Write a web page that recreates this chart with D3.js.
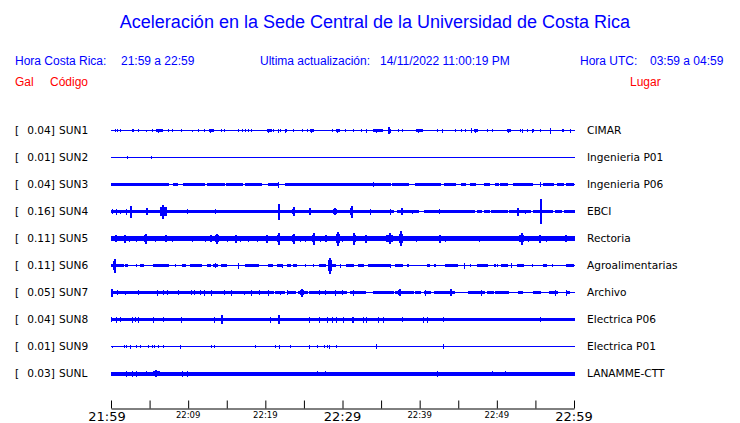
<!DOCTYPE html>
<html><head><meta charset="utf-8">
<script src="https://cdn.jsdelivr.net/npm/d3@7/dist/d3.min.js"></script>
<style>
html,body{margin:0;padding:0;background:#fff;}
svg{display:block;}
</style></head>
<body>
<svg id="chart" width="740" height="423"></svg>
<script>
// ---------- DATA ----------
const title = "Aceleración en la Sede Central de la Universidad de Costa Rica";
const horaCR = "21:59 a 22:59";
const horaUTC = "03:59 a 04:59";
const actualizacion = "14/11/2022 11:00:19 PM";
const stations = ["SUN1","SUN2","SUN3","SUN4","SUN5","SUN6","SUN7","SUN8","SUN9","SUNL"];
const peaks = ["0.04","0.01","0.04","0.16","0.11","0.11","0.05","0.04","0.01","0.03"];
const places = ["CIMAR","Ingenieria P01","Ingenieria P06","EBCI","Rectoria","Agroalimentarias","Archivo","Electrica P06","Electrica P01","LANAMME-CTT"];
const tickMinutes = [0,5,10,15,20,25,30,35,40,45,50,55,60];
const tickLabels = ["21:59","","22:09","","22:19","","22:29","","22:39","","22:49","","22:59"];
const bigLabels = ["21:59","22:29","22:59"];
// background trace amplitude (relative units) and band amplitude
const baseAmp = [0.5,0.5,0.5,0.5,0.5,0.5,0.5,0.5,0.5,0.5];
const bandAmp = [0,0,1.5,1.7,2.5,1.4,1.6,1.9,0,2.0];
// band segments [startMinute, endMinute]
const bands = [
  [],
  [],
  [[0,7.4],[8.0,8.6],[9.3,10.9],[11.0,12.0],[12.5,14.6],[14.9,17.0],[17.4,19.5],[20.3,21.5],[22.5,29.9],[30.0,36.2],[36.4,38.5],[39.4,42.6],[43.1,44.6],[45.4,45.9],[46.5,47.2],[48.4,49.0],[49.8,50.2],[50.4,51.3],[52.1,54.5],[56.0,57.3],[57.8,58.6],[59.0,59.9]],
  [[0,36.6],[37.1,39.8],[40.5,47.0],[47.4,48.0],[48.3,49.0],[49.3,51.3],[51.6,54.3],[54.7,57.2],[57.5,58.3],[58.7,60]],
  [[0,60]],
  [[0,1.5],[1.8,2.1],[3.8,4.2],[5.5,7.4],[9.2,9.6],[10.2,11.7],[12.4,12.8],[13.2,13.7],[14.3,14.9],[17.4,19.1],[20.4,20.8],[21.5,22.1],[22.8,23.2],[23.6,24.0],[26.9,27.7],[28.1,29.0],[30.5,31.4],[32.0,32.7],[33.3,36.2],[36.8,37.7],[38.3,38.5],[40.9,41.2],[41.8,42.0],[43.3,44.4],[44.6,44.8],[47.4,48.7],[49.6,49.8],[50.6,51.3],[52.6,53.4],[56.0,56.4],[59.0,59.9]],
  [[0,21.0],[21.3,22.4],[23.0,23.8],[24.2,25.4],[25.7,30.5],[31.0,32.9],[34.0,36.6],[36.8,39.2],[39.4,40.0],[40.5,41.3],[41.8,42.6],[42.8,44.4],[46.3,48.3],[48.7,49.5],[49.7,51.5],[52.8,53.2],[54.7,55.6],[56.7,57.8],[58.9,59.3]],
  [[0,60]],
  [],
  [[0,60]]
];
// events [minute, amplitude, burstWidthMinutes]
const events = [
  [[0.52,1.5,0],[0.73,1.5,0],[1.2,1.5,0],[2.7,1.5,0],[2.9,1.5,0],[3.5,1.5,0],[4.6,1,0],[5.3,1.5,0],[5.8,2,0.9],[7.4,1.5,0],[7.9,1.5,0],[9.1,1.5,0],[10.5,1,0],[11.3,1.5,0],[12.0,1.5,0],[12.7,2,0.6],[14.3,1.5,0],[14.6,1.5,0],[16.5,1.5,0],[17.0,1.5,0],[17.4,1.5,0],[17.7,1.5,0],[18.2,1.5,0],[20.2,2,0.6],[21.0,1.5,0],[21.7,2,0],[21.9,1.5,0],[22.5,2,0.35],[23.6,1.5,0],[24.7,1.5,0],[25.4,1.5,0],[25.8,2,0.45],[28.6,1.5,0],[29.1,2,0.6],[30.3,1.5,0],[31.4,1.5,0],[32.4,1.5,0],[33.0,2,0],[34.0,2,1.2],[35.9,3.5,0],[36.2,2,0],[37.2,1.5,0],[37.7,1.5,0],[39.5,2,0.9],[42.2,1.5,0],[42.9,2,0],[44.6,1.5,0],[45.3,1.5,0],[45.9,1.5,0],[46.6,2.5,0],[47.0,2,0.6],[48.7,1.5,0],[49.4,1.5,0],[51.3,2,0.6],[53.0,1.5,0],[53.2,2,0.2],[53.9,1.5,0],[54.5,2,0.35],[55.6,1.5,0],[56.9,3,0],[58.4,1.5,0],[58.6,1.5,0],[59.5,2,0]],
  [[2.1,1.5,0],[5.2,1.5,0]],
  [[21.7,3,0],[34.0,2.5,0],[55.6,2.5,0]],
  [[0.1,2.5,0],[0.7,3,0],[1.2,2,0],[1.9,3,0.3],[2.4,6,0],[4.5,3.5,0],[6.4,7,0.9],[9.9,2.5,0],[13.3,2.5,0.5],[21.7,8,0],[23.4,4.5,0.5],[25.7,3.5,0],[28.8,3.5,0.5],[31.0,6,0.3],[33.5,3,0],[36.1,3,0],[37.6,3.5,0],[39.0,2,0],[42.5,2.5,0.2],[52.6,4,0],[53.7,2,0],[55.6,12.5,0]],
  [[0.3,3.5,0.9],[1.6,4,0.3],[2.2,3,0.3],[3.3,3,0],[4.3,5,0.4],[5.7,3,0],[6.9,3.5,0.5],[7.9,3,0],[10.2,3,0.9],[12.2,3,0],[12.8,3.5,0],[13.5,5,0.5],[15.0,3,0.2],[15.8,4,0.7],[16.7,3,0],[17.8,3,0],[18.9,3,0],[20.0,4,0.5],[21.5,6,0.4],[23.4,5,0.5],[24.5,3,0],[25.1,3,0],[26.0,6,0.4],[27.1,3,0],[27.7,3.5,0],[29.2,7,0.5],[29.8,3,0.4],[31.3,6,0.4],[32.6,4,0.9],[35.7,5.5,0.9],[37.3,7.5,0.6],[39.2,3,1.0],[42.4,4,0.4],[43.3,3,0],[47.6,3,0.4],[52.9,6,0.6],[54.1,3,0],[55.4,4,0.4],[56.4,3,0],[58.7,3.5,0.4]],
  [[0.3,7,0.4],[3.3,1.5,0],[8.3,1.5,0],[13.5,2.5,0],[16.5,3,0],[22.2,2,0],[25.2,1.5,0],[26.2,1.5,0],[28.1,8,0.6],[29.7,2,0],[36.2,2,0],[38.3,1.5,0],[45.7,3,0],[46.5,1.5,0],[50.0,1.5,0],[51.9,2.5,0],[54.5,1.5,0],[56.1,1.5,0],[57.1,1.5,0]],
  [[0.0,4,0.2],[0.6,2.5,0.4],[1.8,2,0],[3.5,2.5,0],[5.8,3,0.4],[6.8,2.5,0],[7.3,2.5,0],[8.7,2.5,0],[10.4,2.5,0],[10.8,2.5,0],[11.5,2.5,0],[12.0,3,0],[13.0,3,0],[14.5,2.5,0.4],[15.6,3,0],[17.2,2,0],[18.0,3,0.3],[19.2,2.5,0],[20.2,3,0.6],[21.9,2,0],[22.8,2.5,0],[24.5,4,0.5],[26.9,2.5,0],[27.7,2.5,0],[29.0,3,0],[29.9,2.5,0],[31.3,3,0.3],[37.2,3.5,0.3],[40.7,3,0],[43.9,3.5,0.3],[48.0,3,0],[57.4,3,0.3],[59.0,3,0]],
  [[0.0,2.5,0],[0.7,3,0],[1.2,2.5,0],[2.6,3,0.3],[3.1,2.5,0],[3.5,3,0],[5.4,3,0.3],[6.8,2.5,0],[9.1,3,0],[13.3,3,0.3],[14.3,4.5,0],[20.6,3,0],[21.7,4.5,0],[25.6,3,0],[26.9,3,0],[28.0,3,0],[28.6,3,0],[29.2,3,0],[30.1,3,0],[31.2,3,0],[31.4,3,0],[32.7,3,0],[33.0,3,0],[34.5,3,0.4],[35.3,3,0],[37.7,2.5,0],[40.4,3,0],[40.9,3,0],[43.0,2.5,0],[55.6,2.5,0]],
  [[0.0,1,0.3],[1.7,1.5,0],[2.0,1.5,0],[2.5,2,0],[3.3,1.5,0],[3.7,1.5,0],[4.8,1.5,0],[5.3,1.5,0],[5.6,1.5,0],[6.1,1.5,0],[6.8,1.5,0],[9.0,2,0],[12.9,1.5,0],[13.3,1.5,0],[18.6,1.5,0],[21.3,1.5,0],[21.8,2,0],[23.2,1.5,0],[25.6,2,0],[26.7,1.5,0],[27.6,1.5,0],[28.0,1.5,0],[28.3,2,0],[29.2,1.5,0],[34.3,2.5,0],[43.0,2.5,0]],
  [[2.0,3,0],[2.7,3,0],[3.3,3,0],[4.6,2.5,0],[5.5,3.5,0.8],[9.2,3,0],[9.8,3,0],[26.7,2.5,0],[27.7,2.5,0],[42.2,3,0],[49.4,2.5,0],[51.0,2.5,0]]
];

// ---------- CHART ----------
const svg = d3.select("#chart");
const blue = "#0000ff";
const hdrFont = "'Liberation Sans', Arial, sans-serif";
const lblFont = "'DejaVu Sans', sans-serif";

const t0 = new Date(2022,10,14,21,59);
const t1 = new Date(2022,10,14,22,59);
const atMin = m => new Date(t0.getTime() + m*60000);
const x = d3.scaleTime().domain([t0,t1]).range([111,574]);
const rowY = d3.scalePoint().domain(stations).range([130.5,373.5]);
const amp = d3.scaleLinear().domain([-13.5,13.5]).range([13.5,-13.5]);

// Title and header
svg.append("text").attr("x",375).attr("y",28).attr("text-anchor","middle")
  .attr("font-family",hdrFont).attr("font-size",18).attr("fill",blue).text(title);
const hdr = [
  {x:15, t:"Hora Costa Rica:"},{x:121,t:horaCR},
  {x:260,t:"Ultima actualización:"},{x:380,t:actualizacion},
  {x:580,t:"Hora UTC:"},{x:650,t:horaUTC}
];
svg.selectAll("text.hdr").data(hdr).join("text").attr("class","hdr")
  .attr("x",d=>d.x).attr("y",65).attr("font-family",hdrFont).attr("font-size",12)
  .attr("fill",blue).text(d=>d.t);
const red = [{x:15,t:"Gal"},{x:50,t:"Código"},{x:630,t:"Lugar"}];
svg.selectAll("text.red").data(red).join("text").attr("class","red")
  .attr("x",d=>d.x).attr("y",86).attr("font-family",hdrFont).attr("font-size",12)
  .attr("fill","#ff0000").text(d=>d.t);

// Rows
stations.forEach((s,i)=>{
  const cy = rowY(s);
  const g = svg.append("g").attr("transform",`translate(0,${cy})`);
  // labels
  g.append("text").attr("x",15).attr("y",3.5).attr("font-family",lblFont).attr("font-size",10.6).text("[");
  g.append("text").attr("x",55).attr("y",3.5).attr("text-anchor","end").attr("font-family",lblFont).attr("font-size",10.6).text(peaks[i]+"]");
  g.append("text").attr("x",59).attr("y",3.5).attr("font-family",lblFont).attr("font-size",10.6).text(s);
  g.append("text").attr("x",587).attr("y",3.5).attr("font-family",lblFont).attr("font-size",10.6).text(places[i]);
  const tr = g.append("g").attr("fill",blue).attr("shape-rendering","crispEdges");
  // base line
  tr.append("rect").attr("x",x(t0)).attr("width",x(t1)-x(t0)+1)
    .attr("y",amp(baseAmp[i])).attr("height",amp(-baseAmp[i])-amp(baseAmp[i]));
  // bands
  tr.selectAll("rect.band").data(bands[i]).join("rect").attr("class","band")
    .attr("x",d=>x(atMin(d[0]))).attr("width",d=>Math.max(1,x(atMin(d[1]))-x(atMin(d[0]))+1))
    .attr("y",amp(bandAmp[i])).attr("height",amp(-bandAmp[i])-amp(bandAmp[i]));
  // bursts
  tr.selectAll("rect.burst").data(events[i].filter(d=>d[2]>0)).join("rect").attr("class","burst")
    .attr("x",d=>x(atMin(d[0]))).attr("width",d=>Math.max(1,x(atMin(d[0]+d[2]))-x(atMin(d[0]))))
    .attr("y",d=>amp(Math.max(d[1]*0.65,bandAmp[i]))).attr("height",d=>2*(amp(0)-amp(Math.max(d[1]*0.65,bandAmp[i]))));
  // spikes
  tr.selectAll("rect.spike").data(events[i]).join("rect").attr("class","spike")
    .attr("x",d=>x(atMin(d[0]+d[2]*0.3))).attr("width",d=>d[1]>3?2:1)
    .attr("y",d=>amp(d[1])).attr("height",d=>amp(-d[1])-amp(d[1]));
});

// Time axis
const axisY = 408.5;
const axis = d3.axisTop(x).tickValues(tickMinutes.map(atMin)).tickSize(8).tickSizeOuter(0).tickFormat("");
const ag = svg.append("g").attr("transform",`translate(0,${axisY})`).call(axis);
ag.selectAll("path,line").attr("stroke","#000");
svg.selectAll("text.tick").data(tickMinutes.map((m,i)=>({m,l:tickLabels[i]})).filter(d=>d.l))
  .join("text").attr("class","tick")
  .attr("x",d=>x(atMin(d.m))).attr("dx",d=>d.m===0?-4:0).attr("text-anchor","middle")
  .attr("y",d=>bigLabels.includes(d.l)?421:417.5)
  .attr("font-family",lblFont)
  .attr("font-size",d=>bigLabels.includes(d.l)?13:8.5)
  .text(d=>d.l);
</script>
</body></html>
